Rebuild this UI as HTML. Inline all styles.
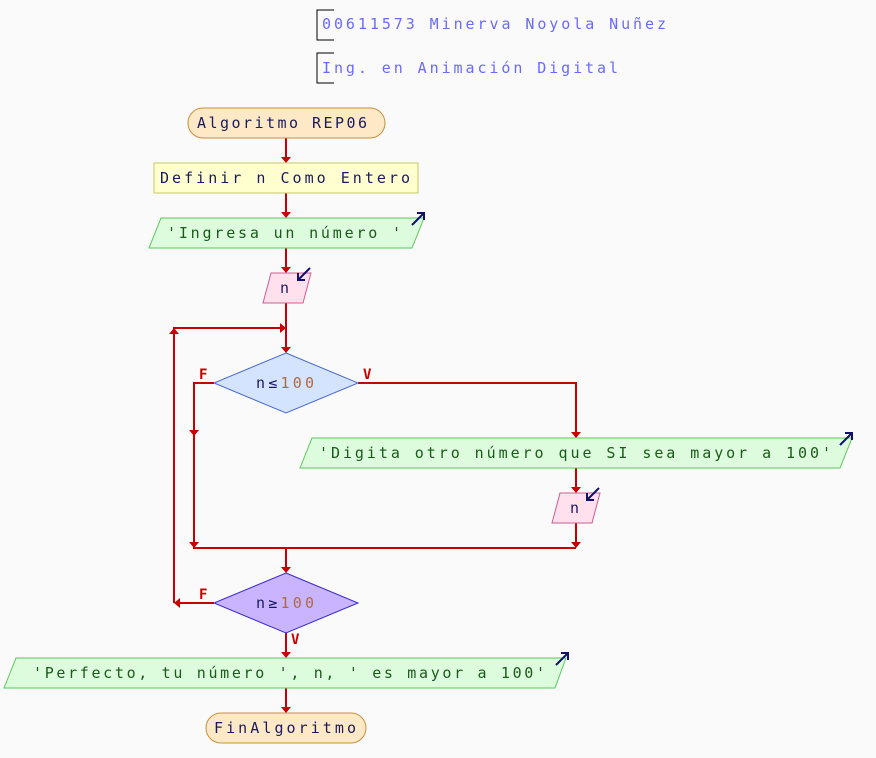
<!DOCTYPE html>
<html><head><meta charset="utf-8"><style>
html,body{margin:0;padding:0;background:#fafafa;}
svg{display:block;}
</style></head><body>
<svg width="876" height="758" viewBox="0 0 876 758" xmlns="http://www.w3.org/2000/svg" font-family="'DejaVu Sans Mono','Liberation Mono',monospace" font-size="15">
<rect width="876" height="758" fill="#fafafa"/>
<path d="M334 10 H317 V40 H334" fill="none" stroke="#000" stroke-width="1"/>
<text x="322" y="29" fill="#6a6aff" textLength="344" lengthAdjust="spacing">00611573 Minerva Noyola Nuñez</text>
<path d="M334 53 H317 V83 H334" fill="none" stroke="#000" stroke-width="1"/>
<text x="322" y="73" fill="#6a6aff" textLength="296" lengthAdjust="spacing">Ing. en Animación Digital</text>

<g stroke="#c80000" stroke-width="2" fill="none">
<path d="M286 138 V157"/>
<path d="M286 193 V212"/>
<path d="M286 248 V267"/>
<path d="M286 303 V347"/>
<path d="M174 603 V328 H280"/>
<path d="M358 383 H576 V432"/>
<path d="M576 468 V487"/>
<path d="M576 523 V542"/>
<path d="M214 383 H194 V548 H576"/>
<path d="M286 548 V567"/>
<path d="M214 603 H180"/>
<path d="M286 633 V652"/>
<path d="M286 688 V707"/>
</g>
<g fill="#c80000">
<polygon points="281,157 291,157 286,163"/>
<polygon points="281,212 291,212 286,218"/>
<polygon points="281,267 291,267 286,273"/>
<polygon points="281,347 291,347 286,353"/>
<polygon points="280,323 280,333 286,328"/>
<polygon points="169,334 179,334 174,328"/>
<polygon points="571,432 581,432 576,438"/>
<polygon points="571,487 581,487 576,493"/>
<polygon points="571,542 581,542 576,548"/>
<polygon points="189,430 199,430 194,436"/>
<polygon points="189,542 199,542 194,548"/>
<polygon points="281,567 291,567 286,573"/>
<polygon points="180,598 180,608 174,603"/>
<polygon points="281,652 291,652 286,658"/>
<polygon points="281,707 291,707 286,713"/>
</g>
<g fill="#c80000" font-weight="bold" font-size="14">
<text x="199" y="379">F</text>
<text x="363" y="379">V</text>
<text x="199" y="599">F</text>
<text x="291" y="644">V</text>
</g>

<rect x="188" y="108" width="197" height="30" rx="15" fill="#fde9c6" stroke="#c8903a"/>
<text x="197" y="128" fill="#1a1a60" textLength="170" lengthAdjust="spacing">Algoritmo REP06</text>
<rect x="154" y="163" width="264" height="30" fill="#ffffd0" stroke="#c8c860"/>
<text x="160" y="183" fill="#1a1a60" textLength="250" lengthAdjust="spacing">Definir n Como Entero</text>
<polygon points="149,248 161,218 424,218 412,248" fill="#ddfcdd" stroke="#5ac85a"/>
<text x="167" y="238" fill="#1a5a1a" textLength="234" lengthAdjust="spacing">'Ingresa un número '</text>
<path d="M412 225 L424 213 M417 213 H424 V220" stroke="#101070" stroke-width="2" fill="none"/>
<polygon points="263,303 271,273 311,273 303,303" fill="#ffe0ec" stroke="#c86090"/>
<text x="280" y="293" fill="#1a1a60">n</text>
<path d="M310 268 L298 280 M298 273 V280 H305" stroke="#101070" stroke-width="2" fill="none"/>
<polygon points="286,353 358,383 286,413 214,383" fill="#d4e4ff" stroke="#4a6ad0"/>
<text x="256" y="388" fill="#1a1a60" textLength="58" lengthAdjust="spacing">n≤<tspan fill="#b06a40">100</tspan></text>
<polygon points="300,468 312,438 852,438 840,468" fill="#ddfcdd" stroke="#5ac85a"/>
<text x="319" y="458" fill="#1a5a1a" textLength="512" lengthAdjust="spacing">'Digita otro número que SI sea mayor a 100'</text>
<path d="M840 445 L852 433 M845 433 H852 V440" stroke="#101070" stroke-width="2" fill="none"/>
<polygon points="552,523 560,493 600,493 592,523" fill="#ffe0ec" stroke="#c86090"/>
<text x="570" y="513" fill="#1a1a60">n</text>
<path d="M599 488 L587 500 M587 493 V500 H594" stroke="#101070" stroke-width="2" fill="none"/>
<polygon points="286,573 358,603 286,633 214,603" fill="#c8b4ff" stroke="#3a2ad0"/>
<text x="256" y="608" fill="#1a1a60" textLength="58" lengthAdjust="spacing">n≥<tspan fill="#b06a40">100</tspan></text>
<polygon points="4,688 16,658 566,658 555,688" fill="#ddfcdd" stroke="#5ac85a"/>
<text x="33" y="678" fill="#1a5a1a" textLength="512" lengthAdjust="spacing">'Perfecto, tu número ', n, ' es mayor a 100'</text>
<path d="M556 665 L568 653 M561 653 H568 V660" stroke="#101070" stroke-width="2" fill="none"/>
<rect x="206" y="713" width="160" height="30" rx="15" fill="#fde9c6" stroke="#c8903a"/>
<text x="214" y="733" fill="#1a1a60" textLength="142" lengthAdjust="spacing">FinAlgoritmo</text>
</svg>
</body></html>
